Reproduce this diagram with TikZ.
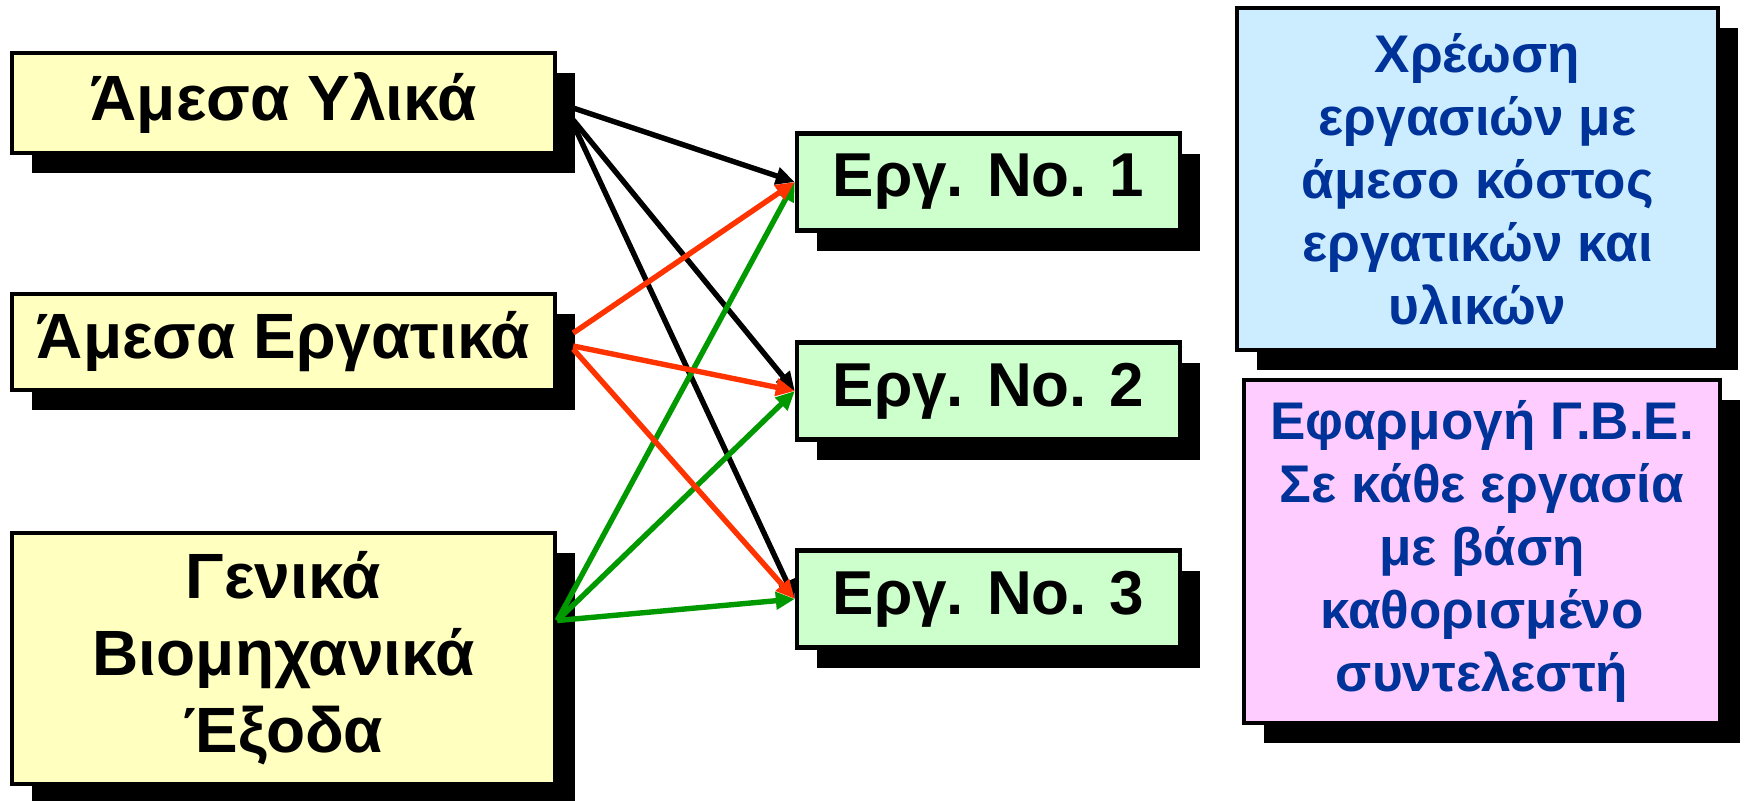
\documentclass[tikz,border=0pt]{standalone}
\usepackage{fontspec}
\setmainfont{Liberation Sans}
\usetikzlibrary{arrows.meta,shadows}

\definecolor{costyellow}{RGB}{255,255,192}
\definecolor{jobgreen}{RGB}{204,255,204}
\definecolor{noteblue}{RGB}{204,236,255}
\definecolor{notepink}{RGB}{255,204,255}
\definecolor{inkblue}{RGB}{0,51,153}
\definecolor{labourred}{RGB}{255,51,0}
\definecolor{overgreen}{RGB}{0,153,0}

\begin{document}
\begin{tikzpicture}[x=0.5pt,y=-0.5pt,
    box/.style={draw=black, line width=2.2pt, align=center, inner sep=0pt,
      drop shadow={shadow xshift=10pt, shadow yshift=-10pt, fill=black, opacity=1}},
    cost/.style={box, fill=costyellow, minimum width=271.5pt,
      font=\fontsize{32}{38.5}\selectfont\bfseries},
    job/.style={box, fill=jobgreen, minimum width=191.5pt, minimum height=48.5pt,
      font=\fontsize{31}{37}\selectfont\bfseries},
    note/.style={box, text=inkblue, font=\fontsize{26.5}{31.5}\selectfont\bfseries},
    flow/.style={line width=2.7pt, -{Triangle[length=9.5pt,width=8.5pt]}}]
        \useasboundingbox (0,0) rectangle (1748,800);

        % Costs
        \node[cost, minimum height=50pt] (yl) at (283.5,103) {Άμεσα Υλικά};
        \node[cost, minimum height=48pt] (er) at (283.5,342) {Άμεσα Εργατικά};
        \node[cost, minimum height=125.5pt] (ge) at (283.5,658.5) {Γενικά\\Βιομηχανικά\\Έξοδα};

        % Jobs
        \node[job] (j1) at (988.5,182) {Εργ. No. 1};
        \node[job] (j2) at (988.5,391) {Εργ. No. 2};
        \node[job] (j3) at (988.5,599) {Εργ. No. 3};

        % Notes
        \node[note, fill=noteblue, minimum width=240.5pt, minimum height=171pt] (xr) at (1477.5,179)
            {Χρέωση\\εργασιών με\\άμεσο κόστος\\εργατικών και\\υλικών};
        \node[note, fill=notepink, minimum width=238pt, minimum height=171.5pt] (ef) at (1482,551.5)
            {Εφαρμογή Γ.Β.Ε.\\Σε κάθε εργασία\\με βάση\\καθορισμένο\\συντελεστή};

        % Materials
        \draw[flow] ([shift={(16,5)}]yl.east) -- (j1.west);
        \draw[flow] ([shift={(16,17)}]yl.east) -- (j2.west);
        \draw[flow] ([shift={(16,21)}]yl.east) -- (j3.west);

        % Overheads
        \draw[flow, overgreen] ([shift={(0,-38)}]ge.east) -- (j1.west);
        \draw[flow, overgreen] ([shift={(0,-38)}]ge.east) -- (j2.west);
        \draw[flow, overgreen] ([shift={(0,-38)}]ge.east) -- (j3.west);

        % Labour
        \draw[flow, labourred] ([shift={(16,-9)}]er.east) -- (j1.west);
        \draw[flow, labourred] ([shift={(16,4)}]er.east) -- (j2.west);
        \draw[flow, labourred] ([shift={(16,7)}]er.east) -- (j3.west);
    \end{tikzpicture}
\end{document}
